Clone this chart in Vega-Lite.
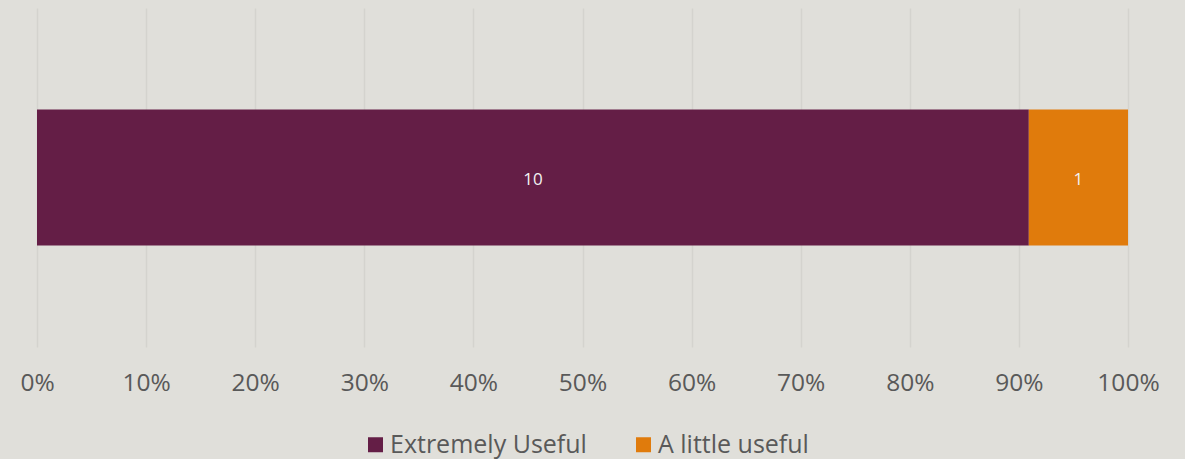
{
  "$schema": "https://vega.github.io/schema/vega-lite/v6.json",
  "autosize": "none",
  "width": 1091,
  "height": 339,
  "padding": {"left": 37, "top": 8, "right": 57, "bottom": 112},
  "background": "#E0DFDA",
  "config": {"view": {"stroke": null}, "font": "Open Sans"},
  "data": {"values": [
    {"row": "Q", "response": "Extremely Useful", "count": 10, "rank": 1},
    {"row": "Q", "response": "A little useful", "count": 1, "rank": 2}
  ]},
  "transform": [
    {"stack": "count", "groupby": ["row"], "sort": [{"field": "rank"}], "as": ["x0", "x1"], "offset": "normalize"}
  ],
  "encoding": {
    "y": {"field": "row", "type": "nominal", "axis": null, "scale": {"paddingInner": 0, "paddingOuter": 0.746}}
  },
  "layer": [
    {
      "mark": {"type": "bar"},
      "encoding": {
        "x": {"field": "x0", "type": "quantitative", "scale": {"domain": [0, 1], "nice": false},
          "axis": {"format": ".0%", "values": [0,0.1,0.2,0.3,0.4,0.5,0.6,0.7,0.8,0.9,1], "domain": false, "ticks": false, "grid": true, "gridColor": "#D4D3CE", "gridWidth": 1.5, "labelFontSize": 24.5, "labelColor": "#595959", "labelPadding": 24, "labelFlush": false, "title": null, "labelFont": "Open Sans"}},
        "x2": {"field": "x1"},
        "color": {"field": "response", "type": "nominal",
          "scale": {"domain": ["Extremely Useful", "A little useful"], "range": ["#641E46", "#E07B0C"]},
          "legend": {"title": null, "orient": "none", "direction": "horizontal", "legendX": 326, "legendY": 424, "symbolType": "square", "symbolSize": 225, "symbolStrokeWidth": 0, "labelFontSize": 25, "labelColor": "#595959", "labelFont": "Open Sans", "labelLimit": 0, "columnPadding": 44, "symbolOffset": 0, "labelOffset": 2}}
      }
    },
    {
      "transform": [
        {"fold": ["x0", "x1"], "as": ["edge", "pos"]},
        {"aggregate": [{"op": "mean", "field": "pos", "as": "mid"}], "groupby": ["row", "response", "count"]}
      ],
      "mark": {"type": "text", "color": "#F2F2F2", "fontSize": 17, "font": "Open Sans", "dy": 2},
      "encoding": {
        "x": {"field": "mid", "type": "quantitative"},
        "text": {"field": "count", "type": "quantitative"}
      }
    }
  ]
}
